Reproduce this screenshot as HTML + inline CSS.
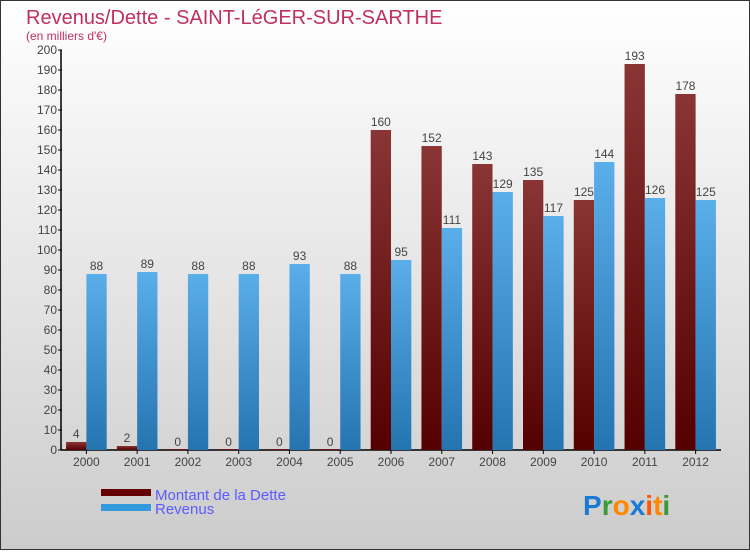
<!DOCTYPE html>
<html><head><meta charset="utf-8"><style>
html,body{margin:0;padding:0}
body{width:750px;height:550px;overflow:hidden;font-family:"Liberation Sans",sans-serif}
</style></head><body>
<svg width="750" height="550" xmlns="http://www.w3.org/2000/svg">
<defs>
<linearGradient id="bg" x1="0" y1="0" x2="0" y2="1"><stop offset="0" stop-color="#ffffff"/><stop offset="1" stop-color="#cccccc"/></linearGradient>
<linearGradient id="gd" x1="0" y1="0" x2="0" y2="1"><stop offset="0" stop-color="#8a3535"/><stop offset="1" stop-color="#550000"/></linearGradient>
<linearGradient id="gr" x1="0" y1="0" x2="0" y2="1"><stop offset="0" stop-color="#5aaeea"/><stop offset="1" stop-color="#2474b0"/></linearGradient>
</defs>
<rect x="0.5" y="0.5" width="749" height="549" fill="url(#bg)" stroke="#333"/>
<text x="26" y="24" font-size="20" fill="#c0305e">Revenus/Dette - SAINT-LéGER-SUR-SARTHE</text>
<text x="26" y="40" font-size="12" fill="#c0305e">(en milliers d'€)</text>
<g id="axes"></g>
<g id="bars"></g>
<g>
<rect x="101" y="489" width="50" height="7" fill="#660000"/>
<text x="155" y="500" font-size="15" fill="#5b5bff">Montant de la Dette</text>
<rect x="101" y="504" width="50" height="7" fill="#3399dd"/>
<text x="155" y="514" font-size="15" fill="#5b5bff">Revenus</text>
</g>
<g font-size="28" font-weight="bold">
<text x="583" y="515"><tspan fill="#1a7ad4">P</tspan><tspan fill="#3a9a3a">r</tspan><tspan fill="#ff8800">o</tspan><tspan fill="#1a7ad4">x</tspan><tspan fill="#ff5500">i</tspan><tspan fill="#ff8800">t</tspan><tspan fill="#3a9a3a">i</tspan></text>
</g>
</svg>
<script>
const years=["2000","2001","2002","2003","2004","2005","2006","2007","2008","2009","2010","2011","2012"];
const dette=[4,2,0,0,0,0,160,152,143,135,125,193,178];
const revenus=[88,89,88,88,93,88,95,111,129,117,144,126,125];
const yTicks=[0,10,20,30,40,50,60,70,80,90,100,110,120,130,140,150,160,170,180,190,200];
const NS="http://www.w3.org/2000/svg";
const L=61,R=721,T=50,B=450,MAX=200;
const cw=(R-L)/years.length;
const y=v=>B-(v/MAX)*(B-T);
const x=i=>L+i*cw;
function mk(tag,attrs,parent){const e=document.createElementNS(NS,tag);for(const k in attrs)e.setAttribute(k,attrs[k]);parent.appendChild(e);return e;}
const axes=document.getElementById('axes'),bars=document.getElementById('bars');
let a=mk('line',{x1:L,y1:T,x2:L,y2:B,stroke:'#000','stroke-width':1.5},axes);


a=mk('line',{x1:L,y1:B,x2:R,y2:B,stroke:'#000','stroke-width':1.5},axes);


yTicks.forEach(v=>{
 mk('line',{x1:L-3,y1:y(v),x2:L+1,y2:y(v),stroke:'#000'},axes);
 const t=mk('text',{x:L-4,y:y(v)+4,'font-size':12,'text-anchor':'end',fill:'#444'},axes);
 t.textContent=v;
 
 
});
const bw=cw*0.4;
years.forEach((yr,i)=>{
 const cx=x(i)+cw/2;
 mk('line',{x1:cx,y1:B,x2:cx,y2:B+4,stroke:'#000'},axes);
 const t=mk('text',{x:cx,y:B+16,'font-size':12,'text-anchor':'middle',fill:'#444'},axes);
 t.textContent=yr;
 
 
 const x0=cx-bw;
 const hd=Math.max(B-y(dette[i]),1);
 const b1=mk('rect',{x:x0,y:B-hd,width:bw,height:hd,fill:'url(#gd)'},bars);
 
 
 const l1=mk('text',{x:x0+bw/2,y:y(dette[i])-4,'font-size':12,'text-anchor':'middle',fill:'#444'},bars);
 l1.textContent=dette[i];
 
 
 const b2=mk('rect',{x:cx,y:y(revenus[i]),width:bw,height:B-y(revenus[i]),fill:'url(#gr)'},bars);
 
 
 const l2=mk('text',{x:cx+bw/2,y:y(revenus[i])-4,'font-size':12,'text-anchor':'middle',fill:'#444'},bars);
 l2.textContent=revenus[i];
 
 
});
</script>
</body></html>
